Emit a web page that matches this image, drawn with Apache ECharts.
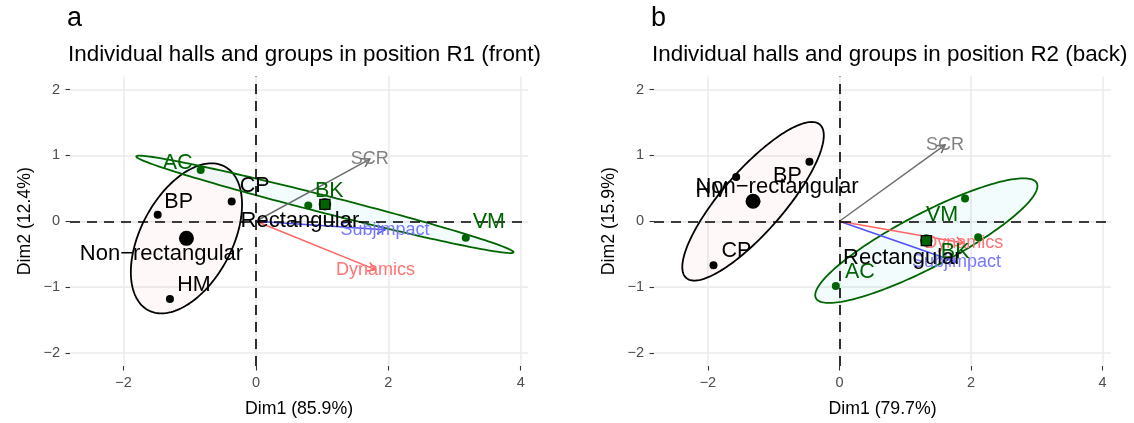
<!DOCTYPE html>
<html><head><meta charset="utf-8">
<script src="https://cdn.jsdelivr.net/npm/echarts@6/dist/echarts.min.js"></script>
<style>html,body{margin:0;padding:0;background:#fff}#c{width:1134px;height:423px}</style>
</head><body><div id="c"></div>
<script>
// ---------- DATA ----------
const groupNames = ['Non\u2212rectangular', 'Rectangular'];

// Panel a : position R1 (front)
const hallsA = ['BP', 'CP', 'HM', 'AC', 'BK', 'VM'];
const hallGroupA = [0, 0, 0, 1, 1, 1];
const dim1A = [-1.485, -0.367, -1.30, -0.835, 0.79, 3.17];
const dim2A = [0.10, 0.30, -1.18, 0.78, 0.24, -0.25];
const variables = ['SCR', 'Subjimpact', 'Dynamics'];
const varDim1A = [1.72, 1.95, 1.805];
const varDim2A = [0.945, -0.13, -0.736];
const ellSd1A = [0.84, 2.85];
const ellSd2A = [1.14, 0.74];
const ellRhoA = [0.45, -0.983];

// Panel b : position R2 (back)
const hallsB = ['BP', 'HM', 'CP', 'AC', 'BK', 'VM'];
const hallGroupB = [0, 0, 0, 1, 1, 1];
const dim1B = [-0.456, -1.57, -1.915, -0.055, 2.11, 1.91];
const dim2B = [0.905, 0.673, -0.667, -0.985, -0.242, 0.344];
const varDim1B = [1.606, 1.78, 1.89];
const varDim2B = [1.16, -0.62, -0.33];
const ellSd1B = [1.076, 1.69];
const ellSd2B = [1.205, 0.947];
const ellRhoB = [0.83, 0.875];

const tickValuesX = [-2, 0, 2, 4];
const tickValuesY = [-2, -1, 0, 1, 2];

// ---------- LAYOUT / STYLE ----------
const FONT = '"Liberation Sans", Arial, Helvetica, sans-serif';
const groupColors = ['#000000', '#006400'];
const ellipseFill = ['rgba(248,118,109,0.05)', 'rgba(0,191,196,0.05)'];
const varLineColors = ['#6e6e6e', '#5050ff', '#ff6464'];
const varTextColors = ['#808080', '#7878ff', '#ff7474'];
// pixel nudges of the text labels (layout only)
const hallLabelNudgeA = { BP: [21, -13], CP: [23, -15], HM: [24, -14], AC: [-23, -7], BK: [21, -14], VM: [23, -16] };
const hallLabelNudgeB = { BP: [-22, 14], HM: [-24, 14], CP: [23, -14], AC: [24, -14], BK: [-23, 15], VM: [-23, 16] };
const meanLabelNudgeA = [[-25, 16], [-25, 17]];
const meanLabelNudgeB = [[24, -14], [-24, 17]];

const panels = [
  { letter: 'a', subtitle: 'Individual halls and groups in position R1 (front)', xName: 'Dim1 (85.9%)', yName: 'Dim2 (12.4%)',
    halls: hallsA, grp: hallGroupA, d1: dim1A, d2: dim2A, v1: varDim1A, v2: varDim2A,
    sd1: ellSd1A, sd2: ellSd2A, rho: ellRhoA, nudge: hallLabelNudgeA, mnudge: meanLabelNudgeA,
    grid: { left: 70, top: 76.5, width: 458, height: 290.4 }, xmin: -2.81, xmax: 4.11, titleLeft: 67 },
  { letter: 'b', subtitle: 'Individual halls and groups in position R2 (back)', xName: 'Dim1 (79.7%)', yName: 'Dim2 (15.9%)',
    halls: hallsB, grp: hallGroupB, d1: dim1B, d2: dim2B, v1: varDim1B, v2: varDim2B,
    sd1: ellSd1B, sd2: ellSd2B, rho: ellRhoB, nudge: hallLabelNudgeB, mnudge: meanLabelNudgeB,
    grid: { left: 654, top: 76.5, width: 457, height: 290.4 }, xmin: -2.82, xmax: 4.13, titleLeft: 651 }
];
const YMIN = -2.2, YMAX = 2.2;

const fmt = v => (v < 0 ? '\u2212' + Math.abs(v) : String(v));

const option = { animation: false, backgroundColor: '#fff', title: [], grid: [], xAxis: [], yAxis: [], series: [] };

panels.forEach((p, k) => {
  option.title.push({ text: p.letter, left: p.titleLeft, top: 5, padding: 0, textStyle: { fontFamily: FONT, fontSize: 27, fontWeight: 'normal', color: '#000' } });
  option.title.push({ text: p.subtitle, left: p.titleLeft + 1, top: 44, padding: 0, textStyle: { fontFamily: FONT, fontSize: 22.4, fontWeight: 'normal', color: '#000' } });
  option.grid.push(Object.assign({ containLabel: false }, p.grid));

  const baseX = {
    type: 'value', gridIndex: k, min: p.xmin, max: p.xmax,
    axisLine: { show: false, onZero: false }
  };
  option.xAxis.push(Object.assign({}, baseX, {
    minInterval: 1, maxInterval: 1,
    splitLine: { show: true, showMinLine: false, showMaxLine: false, lineStyle: { color: '#ebebeb', width: 0.8 } },
    axisTick: { show: true, customValues: tickValuesX, length: 4.5, lineStyle: { color: '#333', width: 1.1 } },
    axisLabel: { show: true, customValues: tickValuesX, formatter: fmt, color: '#4d4d4d', fontSize: 14.5, fontFamily: FONT, margin: 9 },
    name: p.xName, nameLocation: 'middle', nameGap: 34,
    nameTextStyle: { fontFamily: FONT, fontSize: 17.7, color: '#000' }
  }));
  option.xAxis.push(Object.assign({}, baseX, {
    minInterval: 2, maxInterval: 2,
    splitLine: { show: true, showMinLine: false, showMaxLine: false, lineStyle: { color: '#ebebeb', width: 1.5 } },
    axisTick: { show: false }, axisLabel: { show: false }
  }));
  const baseY = {
    type: 'value', gridIndex: k, min: YMIN, max: YMAX,
    axisLine: { show: false, onZero: false }
  };
  option.yAxis.push(Object.assign({}, baseY, {
    minInterval: 0.5, maxInterval: 0.5,
    splitLine: { show: true, showMinLine: false, showMaxLine: false, lineStyle: { color: '#ebebeb', width: 0.8 } },
    axisTick: { show: true, customValues: tickValuesY, length: 4.5, lineStyle: { color: '#333', width: 1.1 } },
    axisLabel: { show: true, customValues: tickValuesY, formatter: fmt, color: '#4d4d4d', fontSize: 14.5, fontFamily: FONT, margin: 10 },
    name: p.yName, nameLocation: 'middle', nameGap: 36, nameRotate: 90,
    nameTextStyle: { fontFamily: FONT, fontSize: 17.7, color: '#000' }
  }));
  option.yAxis.push(Object.assign({}, baseY, {
    minInterval: 1, maxInterval: 1,
    splitLine: { show: true, showMinLine: false, showMaxLine: false, lineStyle: { color: '#ebebeb', width: 1.5 } },
    axisTick: { show: false }, axisLabel: { show: false }
  }));

  const xi = 2 * k, yi = 2 * k;

  // group means (computed from the individual points)
  const means = groupNames.map((g, gi) => {
    let sx = 0, sy = 0, n = 0;
    p.d1.forEach((v, i) => { if (p.grp[i] === gi) { sx += v; sy += p.d2[i]; n++; } });
    return [sx / n, sy / n];
  });

  // dashed reference lines at 0
  option.series.push({
    type: 'scatter', xAxisIndex: xi, yAxisIndex: yi, data: [], z: 2, silent: true,
    markLine: {
      silent: true, symbol: 'none', animation: false, label: { show: false },
      lineStyle: { type: [10, 7], color: '#000', width: 1.6 },
      data: [{ xAxis: 0 }, { yAxis: 0 }]
    }
  });

  // concentration ellipses
  option.series.push({
    type: 'custom', xAxisIndex: xi, yAxisIndex: yi, z: 3, silent: true,
    data: means.map(m => [m[0], m[1]]),
    encode: { x: 0, y: 1 },
    renderItem: (params, api) => {
      const gi = params.dataIndex;
      const cx = api.value(0), cy = api.value(1);
      const d = Math.acos(p.rho[gi]);
      const pts = [];
      for (let s = 0; s <= 180; s++) {
        const t = s / 180 * Math.PI * 2;
        pts.push(api.coord([cx + p.sd1[gi] * Math.cos(t), cy + p.sd2[gi] * Math.cos(t - d)]));
      }
      return { type: 'polygon', shape: { points: pts }, style: { fill: ellipseFill[gi], stroke: groupColors[gi], lineWidth: 1.8 } };
    }
  });

  // variable arrows
  option.series.push({
    type: 'custom', xAxisIndex: xi, yAxisIndex: yi, z: 4, silent: true,
    data: variables.map((v, i) => [p.v1[i], p.v2[i]]),
    encode: { x: 0, y: 1 },
    renderItem: (params, api) => {
      const i = params.dataIndex;
      const o = api.coord([0, 0]);
      const e = api.coord([api.value(0), api.value(1)]);
      const ang = Math.atan2(e[1] - o[1], e[0] - o[0]);
      const L = 9, A = Math.PI / 6;
      const h1 = [e[0] - L * Math.cos(ang - A), e[1] - L * Math.sin(ang - A)];
      const h2 = [e[0] - L * Math.cos(ang + A), e[1] - L * Math.sin(ang + A)];
      return {
        type: 'group', children: [
          { type: 'line', shape: { x1: o[0], y1: o[1], x2: e[0], y2: e[1] }, style: { stroke: varLineColors[i], lineWidth: 1.5 } },
          { type: 'polyline', shape: { points: [h1, e, h2] }, style: { stroke: varLineColors[i], lineWidth: 1.5, fill: null } },
          { type: 'text', x: e[0], y: e[1], style: { text: variables[i], fill: varTextColors[i], font: '18px ' + FONT, align: 'center', verticalAlign: 'middle' } }
        ]
      };
    }
  });

  // individual halls
  option.series.push({
    type: 'scatter', xAxisIndex: xi, yAxisIndex: yi, z: 5, silent: true,
    symbol: 'circle', symbolSize: 8,
    itemStyle: { opacity: 1 },
    data: p.halls.map((h, i) => ({
      name: h, value: [p.d1[i], p.d2[i]],
      itemStyle: { color: groupColors[p.grp[i]], opacity: 1 },
      label: { show: true, position: 'inside', offset: p.nudge[h], color: groupColors[p.grp[i]] }
    })),
    label: { show: true, position: 'inside', formatter: '{b}', fontFamily: FONT, fontSize: 21.5 }
  });

  // group means
  option.series.push({
    type: 'scatter', xAxisIndex: xi, yAxisIndex: yi, z: 6, silent: true,
    itemStyle: { opacity: 1 },
    data: means.map((m, gi) => ({
      name: groupNames[gi], value: m,
      symbolSize: gi === 0 ? 15 : 12.5,
      itemStyle: { color: groupColors[gi], opacity: 1 },
      label: { show: true, position: 'inside', offset: p.mnudge[gi] }
    })),
    label: { show: true, position: 'inside', formatter: '{b}', fontFamily: FONT, fontSize: 22, color: '#000' }
  });
  option.series.push({
    type: 'scatter', xAxisIndex: xi, yAxisIndex: yi, z: 6, silent: true,
    symbol: 'rect', symbolSize: 10,
    data: means.filter((m, gi) => gi === 1).map(m => ({ value: m })),
    itemStyle: { color: groupColors[1], borderColor: '#000', borderWidth: 1.4, opacity: 1 }
  });
});

const chart = echarts.init(document.getElementById('c'), null, { renderer: 'canvas' });
chart.setOption(option);
</script>
</body></html>
